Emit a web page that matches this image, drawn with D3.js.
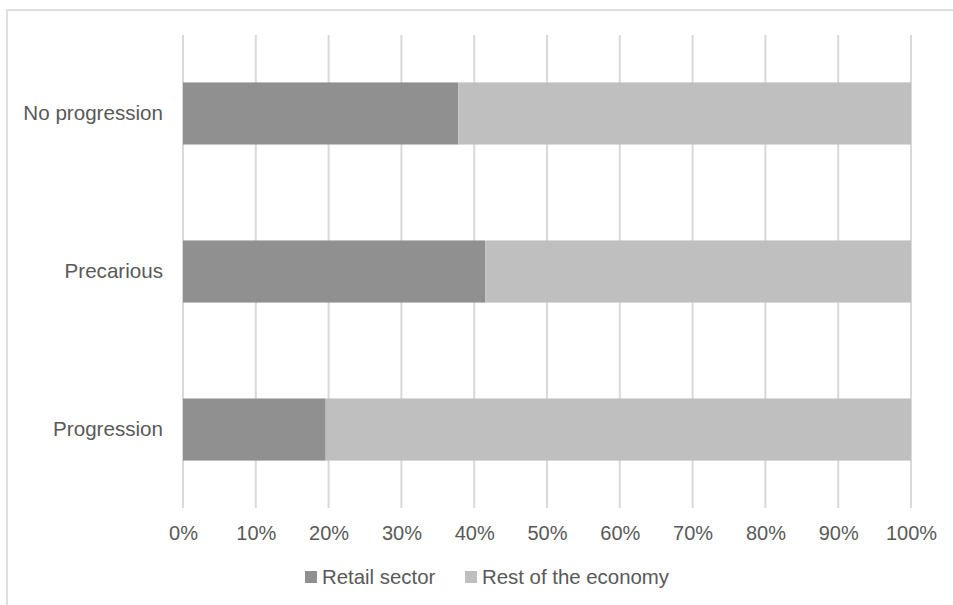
<!DOCTYPE html>
<html>
<head>
<meta charset="utf-8">
<script src="https://cdn.jsdelivr.net/npm/d3@7"></script>
<style>
  body { margin: 0; background: #fff; }
  svg { display: block; font-family: "Liberation Sans", Arial, sans-serif; }
</style>
</head>
<body>
<div id="chart"></div>
<script>
const categories = ["No progression", "Precarious", "Progression"];
const retail = [0.378, 0.415, 0.196];
const rest = [0.622, 0.585, 0.804];
const seriesNames = ["Retail sector", "Rest of the economy"];
const seriesColors = ["#909090", "#bfbfbf"];
const ticks = [0, 0.1, 0.2, 0.3, 0.4, 0.5, 0.6, 0.7, 0.8, 0.9, 1];

const width = 953;
const height = 605;
const margin = { top: 35, right: 42, bottom: 97, left: 183 };
const textColor = "#595959";
const gridColor = "#d9d9d9";

const svg = d3.select("#chart")
  .append("svg")
  .attr("width", width)
  .attr("height", height);

// outer frame (top and left edges visible)
svg.append("line")
  .attr("x1", 7).attr("x2", width).attr("y1", 10).attr("y2", 10)
  .attr("stroke", "#e0e0e0").attr("stroke-width", 2);
svg.append("line")
  .attr("x1", 7).attr("x2", 7).attr("y1", 9).attr("y2", height)
  .attr("stroke", "#e0e0e0").attr("stroke-width", 2);

const x = d3.scaleLinear()
  .domain([0, 1])
  .range([margin.left, width - margin.right]);

const y = d3.scaleBand()
  .domain(categories)
  .range([margin.top, height - margin.bottom])
  .paddingInner(0.607)
  .paddingOuter(0.3);

// gridlines
svg.append("g")
  .selectAll("line")
  .data(ticks)
  .join("line")
  .attr("x1", d => x(d))
  .attr("x2", d => x(d))
  .attr("y1", margin.top)
  .attr("y2", height - margin.bottom)
  .attr("stroke", gridColor)
  .attr("stroke-width", 2);

const stacked = d3.stack()
  .keys([0, 1])
  .value((d, k) => k === 0 ? retail[d] : rest[d])(d3.range(categories.length));

svg.append("g")
  .selectAll("g")
  .data(stacked)
  .join("g")
  .attr("fill", (d, i) => seriesColors[i])
  .selectAll("rect")
  .data(d => d)
  .join("rect")
  .attr("x", d => x(d[0]))
  .attr("width", d => x(d[1]) - x(d[0]))
  .attr("y", d => y(categories[d.data]))
  .attr("height", y.bandwidth());

// x tick labels
const xAxis = svg.append("g")
  .attr("transform", `translate(0,${height - margin.bottom})`)
  .call(d3.axisBottom(x).tickValues(ticks).tickFormat(d3.format(".0%")).tickSize(0).tickPadding(18));
xAxis.select(".domain").remove();
xAxis.selectAll("text")
  .attr("fill", textColor)
  .attr("font-size", 20)
  .attr("font-family", "'Liberation Sans', Arial, sans-serif");

// y labels
const yAxis = svg.append("g")
  .attr("transform", `translate(${margin.left},0)`)
  .call(d3.axisLeft(y).tickSize(0).tickPadding(20));
yAxis.select(".domain").remove();
yAxis.selectAll("text")
  .attr("fill", textColor)
  .attr("font-size", 20.6)
  .attr("font-family", "'Liberation Sans', Arial, sans-serif");

// legend
const legendX = [305, 465];
const legend = svg.append("g")
  .selectAll("g")
  .data(seriesNames)
  .join("g")
  .attr("transform", (d, i) => `translate(${legendX[i]},577)`);

legend.append("rect")
  .attr("x", 0)
  .attr("y", -6)
  .attr("width", 12)
  .attr("height", 12)
  .attr("fill", (d, i) => seriesColors[i]);

legend.append("text")
  .attr("x", 17)
  .attr("dy", "0.35em")
  .attr("fill", textColor)
  .attr("font-size", 20.4)
  .text(d => d);
</script>
</body>
</html>
